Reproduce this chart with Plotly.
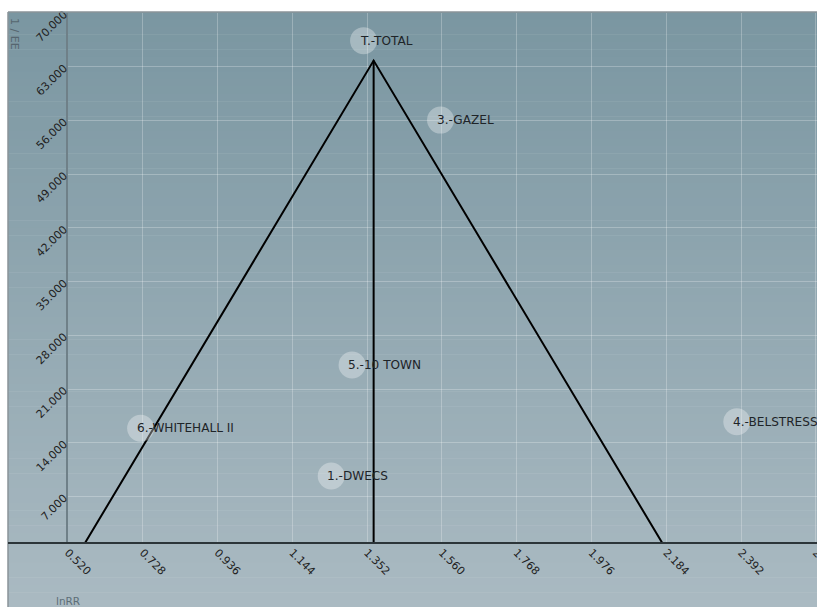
import plotly.graph_objects as go

# ---- data ----
study_labels = ["T.-TOTAL", "3.-GAZEL", "5.-10 TOWN", "6.-WHITEHALL II", "1.-DWECS", "4.-BELSTRESS"]
study_lnrr = [1.342, 1.556, 1.310, 0.722, 1.252, 2.380]
study_inv_se = [66.4, 56.05, 24.15, 15.9, 9.69, 16.76]

funnel_x = [0.555, 1.370, 2.185]
funnel_y = [0.0, 63.8, 0.0]
center_x = [1.370, 1.370]
center_y = [0.0, 63.8]

x_ticks = [0.520, 0.728, 0.936, 1.144, 1.352, 1.560, 1.768, 1.976, 2.184, 2.392, 2.600]
y_ticks = [7, 14, 21, 28, 35, 42, 49, 56, 63, 70]

W, H = 817, 607
L, R, T, B = 68, 0, 13, 64
pw, ph = W - L - R, H - T - B

fig = go.Figure()

fig.add_trace(go.Scatter(x=funnel_x, y=funnel_y, mode="lines",
                         line=dict(color="#000000", width=2), hoverinfo="skip",
                         showlegend=False))
fig.add_trace(go.Scatter(x=center_x, y=center_y, mode="lines",
                         line=dict(color="#000000", width=2), hoverinfo="skip",
                         showlegend=False))
fig.add_trace(go.Scatter(x=study_lnrr, y=study_inv_se, mode="markers",
                         marker=dict(size=27, color="rgba(255,255,255,0.32)",
                                     line=dict(width=0)),
                         showlegend=False))

annotations = []
for lab, xv, yv in zip(study_labels, study_lnrr, study_inv_se):
    annotations.append(dict(x=xv, y=yv, xref="x", yref="y", text=lab,
                            showarrow=False, xanchor="left", yanchor="middle",
                            xshift=-6, font=dict(family="DejaVu Sans", size=12.1,
                                                 color="#1e2428")))

# axis titles
annotations.append(dict(x=(15 - L) / pw, y=1 - (3 / ph), xref="paper", yref="paper",
                        text="1 / EE", textangle=90, showarrow=False,
                        xanchor="center", yanchor="top",
                        font=dict(family="DejaVu Sans", size=11, color="#56666f")))
annotations.append(dict(x=(54 - L) / pw, y=-(601 - T - ph) / ph, xref="paper", yref="paper",
                        text="lnRR", showarrow=False, xanchor="left", yanchor="middle",
                        font=dict(family="DejaVu Sans", size=10.5, color="#5c6e77")))

# gradient background (style only)
shapes = []
top_px, bot_px = 12, H
left_px = 8
c_top = (122, 150, 161)
c_bot = (170, 186, 194)
n = 80
for i in range(n):
    y0p = top_px + (bot_px - top_px) * i / n
    y1p = top_px + (bot_px - top_px) * (i + 1) / n + 0.5
    t = (i + 0.5) / n
    c = tuple(int(round(a + (b - a) * t)) for a, b in zip(c_top, c_bot))
    shapes.append(dict(type="rect", xref="paper", yref="paper", layer="below",
                       x0=(left_px - L) / pw, x1=1.01,
                       y0=1 - (y1p - T) / ph, y1=1 - (y0p - T) / ph,
                       fillcolor="rgb(%d,%d,%d)" % c, line=dict(width=0)))
# frame borders
shapes.append(dict(type="line", xref="paper", yref="paper", layer="above",
                   x0=(left_px - L) / pw, x1=1.01, y0=1 + 1 / ph, y1=1 + 1 / ph,
                   line=dict(color="#8a9399", width=1.5)))
shapes.append(dict(type="line", xref="paper", yref="paper", layer="above",
                   x0=(left_px - L) / pw, x1=(left_px - L) / pw, y0=1 + 1 / ph, y1=-B / ph,
                   line=dict(color="#8a9399", width=1.5)))
# x axis baseline across full width
shapes.append(dict(type="line", xref="paper", yref="paper", layer="above",
                   x0=(left_px - L) / pw, x1=1.01, y0=0, y1=0,
                   line=dict(color="#2c3539", width=2)))

fig.update_layout(
    width=W, height=H,
    margin=dict(l=L, r=R, t=T, b=B, pad=0, autoexpand=False),
    paper_bgcolor="#ffffff",
    plot_bgcolor="rgba(0,0,0,0)",
    font=dict(family="DejaVu Sans", size=11, color="#222222"),
    shapes=shapes,
    annotations=annotations,
    xaxis=dict(range=[0.52, 2.603], tickvals=x_ticks, tickformat=".3f",
               tickangle=45, showgrid=True, gridcolor="rgba(255,255,255,0.25)",
               gridwidth=1, zeroline=False, showline=False, ticks="",
               ticklabeloverflow="allow", automargin=False,
               tickfont=dict(family="DejaVu Sans", size=11, color="#222222")),
    yaxis=dict(range=[0.96, 70], tickvals=y_ticks, tickformat=".3f",
               tickangle=-45, showgrid=True, gridcolor="rgba(255,255,255,0.25)",
               gridwidth=1, zeroline=False, showline=True, linecolor="#6f8088",
               linewidth=1.5, ticks="", automargin=False,
               tickfont=dict(family="DejaVu Sans", size=11, color="#222222")),
)

fig.write_html("out.html")
